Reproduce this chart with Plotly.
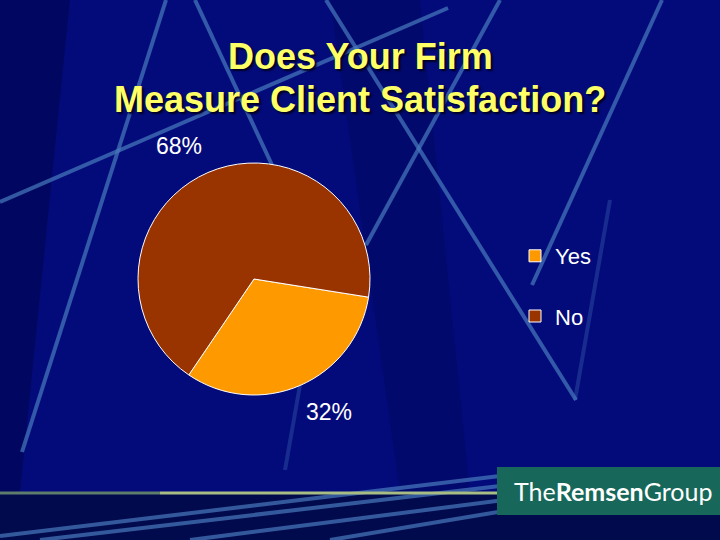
import math
import plotly.graph_objects as go

# ---- data ----
labels = ["Yes", "No"]
values = [32, 68]
slice_colors = ["#FF9900", "#993300"]
title_lines = ["Does Your Firm", "Measure Client Satisfaction?"]
logo_text = "The<b>Remsen</b>Group"

W, H = 720, 540
ROTATION = 99


def px(x):
    return x / W


def py(y):
    return 1 - y / H


dom_x = [138, 370]
dom_y = [163, 395]

fig = go.Figure()

fig.add_trace(go.Pie(
    labels=[l + "<br>&nbsp;" for l in labels],
    values=values,
    sort=False,
    direction="clockwise",
    rotation=ROTATION,
    marker=dict(colors=slice_colors, line=dict(color="white", width=1)),
    textinfo="none",
    domain=dict(x=[px(dom_x[0]), px(dom_x[1])], y=[py(dom_y[1]), py(dom_y[0])]),
    hoverinfo="label+percent",
))

# percentage labels positioned from the slice angles
cx = (dom_x[0] + dom_x[1]) / 2
cy = (dom_y[0] + dom_y[1]) / 2
total = sum(values)
annotations = []
start = ROTATION
for v in values:
    span = 360 * v / total
    mid = math.radians(start + span / 2 - 6)
    r_lab = 153
    lx = cx + r_lab * math.sin(mid)
    ly = cy - r_lab * math.cos(mid)
    annotations.append(dict(
        text=f"{round(100 * v / total)}%", xref="paper", yref="paper",
        x=px(lx), y=py(ly), xanchor="center", yanchor="middle", showarrow=False,
        font=dict(family="Liberation Sans, Arial", size=23, color="white"),
    ))
    start += span

shapes = []
# background bands
shapes.append(dict(type="path", xref="paper", yref="paper", layer="below",
                   path=f"M {px(0)},{py(0)} L {px(70)},{py(0)} L {px(20)},{py(493)} L {px(0)},{py(493)} Z",
                   fillcolor="rgba(0,0,50,0.35)", line=dict(width=0)))
shapes.append(dict(type="path", xref="paper", yref="paper", layer="below",
                   path=f"M {px(330)},{py(0)} L {px(420)},{py(0)} L {px(470)},{py(493)} L {px(400)},{py(493)} Z",
                   fillcolor="rgba(0,0,50,0.18)", line=dict(width=0)))
# bottom dark band
shapes.append(dict(type="rect", xref="paper", yref="paper", layer="below",
                   x0=0, x1=1, y0=0, y1=py(493),
                   fillcolor="#020a4e", line=dict(width=0)))
# decorative lines
deco = [
    ((166, 0), (22, 452)),
    ((195, 0), (272, 165)),
    ((0, 202), (448, 8)),
    ((326, 0), (576, 400)),
    ((500, 0), (366, 245)),
    ((662, 0), (532, 285)),
    ((0, 536), (500, 476)),
    ((40, 540), (500, 486)),
    ((190, 540), (520, 498)),
    ((330, 540), (540, 505)),
]
for (x0, y0), (x1, y1) in deco:
    shapes.append(dict(type="line", xref="paper", yref="paper", layer="below",
                       x0=px(x0), y0=py(y0), x1=px(x1), y1=py(y1),
                       line=dict(color="rgba(72,122,190,0.7)", width=4)))
# faint lines
for (x0, y0), (x1, y1) in [((300, 385), (285, 470)), ((610, 200), (575, 400))]:
    shapes.append(dict(type="line", xref="paper", yref="paper", layer="below",
                       x0=px(x0), y0=py(y0), x1=px(x1), y1=py(y1),
                       line=dict(color="rgba(72,122,190,0.3)", width=4)))
# green horizontal rule
shapes.append(dict(type="line", xref="paper", yref="paper", layer="below",
                   x0=0, y0=py(493), x1=px(160), y1=py(493),
                   line=dict(color="#5f7d6c", width=3)))
shapes.append(dict(type="line", xref="paper", yref="paper", layer="below",
                   x0=px(160), y0=py(493), x1=px(498), y1=py(493),
                   line=dict(color="#a8bd84", width=3)))
# logo box
shapes.append(dict(type="rect", xref="paper", yref="paper", layer="above",
                   x0=px(497), x1=1, y0=py(515), y1=py(467),
                   fillcolor="#17685a", line=dict(width=0)))

for i, t in enumerate(title_lines):
    annotations.append(dict(
        text=t, xref="paper", yref="paper", x=0.5, y=py(56 + i * 43.5),
        xanchor="center", yanchor="middle", showarrow=False,
        font=dict(family="Liberation Sans, Arial", size=36, color="#ffff66",
                  weight="bold", shadow="2px 2px 2px #000022"),
    ))
annotations.append(dict(
    text=logo_text, xref="paper", yref="paper", x=px(613), y=py(491),
    xanchor="center", yanchor="middle", showarrow=False,
    font=dict(family="Lato", size=25, color="white"),
))

fig.update_layout(
    width=W, height=H,
    margin=dict(l=0, r=0, t=0, b=0),
    paper_bgcolor="#030b7b",
    plot_bgcolor="#030b7b",
    shapes=shapes,
    annotations=annotations,
    showlegend=True,
    legend=dict(
        x=px(515), y=py(235), xanchor="left", yanchor="top",
        font=dict(family="Liberation Sans, Arial", size=22, color="white"),
        bgcolor="rgba(0,0,0,0)", valign="top",
    ),
)

fig.write_html("out.html", config={"displayModeBar": False},
               post_script="document.body.style.margin='0';")
